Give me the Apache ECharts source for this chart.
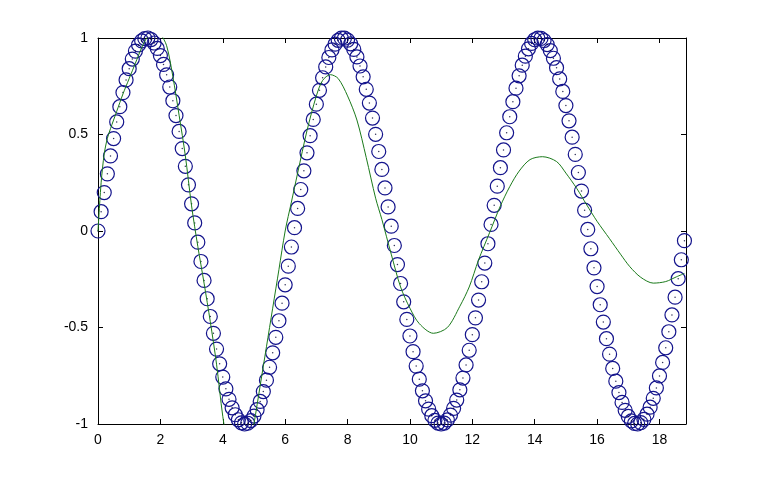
<!DOCTYPE html>
<html><head><meta charset="utf-8">
<script src="https://cdn.jsdelivr.net/npm/echarts@6/dist/echarts.min.js"></script>
<style>html,body{margin:0;padding:0;background:#fff}#c{width:760px;height:477px}</style>
</head><body><div id="c"></div>
<script>
const circleX = [
0,0.1,0.2,0.3,0.4,0.5,0.6,0.7,0.8,0.9,
1,1.1,1.2,1.3,1.4,1.5,1.6,1.7,1.8,1.9,
2,2.1,2.2,2.3,2.4,2.5,2.6,2.7,2.8,2.9,
3,3.1,3.2,3.3,3.4,3.5,3.6,3.7,3.8,3.9,
4,4.1,4.2,4.3,4.4,4.5,4.6,4.7,4.8,4.9,
5,5.1,5.2,5.3,5.4,5.5,5.6,5.7,5.8,5.9,
6,6.1,6.2,6.3,6.4,6.5,6.6,6.7,6.8,6.9,
7,7.1,7.2,7.3,7.4,7.5,7.6,7.7,7.8,7.9,
8,8.1,8.2,8.3,8.4,8.5,8.6,8.7,8.8,8.9,
9,9.1,9.2,9.3,9.4,9.5,9.6,9.7,9.8,9.9,
10,10.1,10.2,10.3,10.4,10.5,10.6,10.7,10.8,10.9,
11,11.1,11.2,11.3,11.4,11.5,11.6,11.7,11.8,11.9,
12,12.1,12.2,12.3,12.4,12.5,12.6,12.7,12.8,12.9,
13,13.1,13.2,13.3,13.4,13.5,13.6,13.7,13.8,13.9,
14,14.1,14.2,14.3,14.4,14.5,14.6,14.7,14.8,14.9,
15,15.1,15.2,15.3,15.4,15.5,15.6,15.7,15.8,15.9,
16,16.1,16.2,16.3,16.4,16.5,16.6,16.7,16.8,16.9,
17,17.1,17.2,17.3,17.4,17.5,17.6,17.7,17.8,17.9,
18,18.1,18.2,18.3,18.4,18.5,18.6,18.7,18.8];
const circleY = [
0,0.100,0.199,0.296,0.389,0.479,0.565,0.644,0.717,0.783,
0.841,0.891,0.932,0.964,0.985,0.997,1.000,0.992,0.974,0.946,
0.909,0.863,0.809,0.746,0.675,0.598,0.516,0.427,0.335,0.239,
0.141,0.042,-0.058,-0.158,-0.256,-0.351,-0.443,-0.530,-0.612,-0.688,
-0.757,-0.818,-0.872,-0.916,-0.952,-0.978,-0.994,-1.000,-0.996,-0.982,
-0.959,-0.926,-0.883,-0.832,-0.773,-0.706,-0.631,-0.551,-0.465,-0.374,
-0.279,-0.182,-0.083,0.017,0.117,0.215,0.312,0.405,0.494,0.578,
0.657,0.729,0.794,0.850,0.899,0.938,0.968,0.988,0.999,0.999,
0.989,0.970,0.941,0.902,0.855,0.799,0.734,0.663,0.585,0.501,
0.412,0.319,0.223,0.125,0.025,-0.075,-0.174,-0.272,-0.367,-0.458,
-0.544,-0.625,-0.700,-0.768,-0.828,-0.880,-0.923,-0.957,-0.981,-0.995,
-1.000,-0.995,-0.979,-0.954,-0.919,-0.876,-0.823,-0.762,-0.694,-0.618,
-0.537,-0.450,-0.358,-0.263,-0.166,-0.066,0.034,0.133,0.232,0.328,
0.420,0.509,0.592,0.670,0.740,0.804,0.859,0.906,0.944,0.972,
0.991,0.999,0.998,0.987,0.966,0.935,0.895,0.846,0.788,0.723,
0.650,0.571,0.486,0.397,0.303,0.207,0.108,0.008,-0.092,-0.191,
-0.288,-0.382,-0.472,-0.558,-0.638,-0.712,-0.778,-0.837,-0.888,-0.929,
-0.961,-0.984,-0.997,-1.000,-0.993,-0.976,-0.949,-0.913,-0.867,-0.813,
-0.751,-0.681,-0.605,-0.522,-0.435,-0.343,-0.247,-0.149,-0.050];

// green curve: points
const lineX = [0,0.1,0.2,0.3,0.4,0.6,0.8,1.0,1.2,1.4,1.6,1.8,2.0,2.2,2.4,2.6,2.8,3.0,3.2,3.4,3.6,3.8,4.0,4.2,4.4,4.6,4.8,5.0,5.2,5.4,5.6,5.8,6.0,6.2,6.4,6.7,7.0,7.2,7.45,7.7,8.0,8.3,8.6,8.9,9.1,9.4,9.7,10.0,10.3,10.75,11.2,11.6,11.9,12.2,12.55,12.9,13.2,13.5,13.85,14.25,14.7,15.0,15.35,15.65,16.0,16.4,16.75,17.05,17.4,17.8,18.2,18.55,18.8];
const lineY = [0,0.25,0.40,0.48,0.53,0.62,0.71,0.79,0.87,0.95,1.01,1.04,1.02,0.96,0.80,0.60,0.39,0.13,-0.08,-0.27,-0.47,-0.69,-0.96,-1.15,-1.25,-1.26,-1.18,-1.0,-0.80,-0.60,-0.40,-0.20,0.0,0.15,0.30,0.52,0.70,0.78,0.81,0.79,0.70,0.575,0.38,0.17,0.06,-0.12,-0.29,-0.40,-0.48,-0.53,-0.50,-0.39,-0.29,-0.15,-0.01,0.13,0.23,0.31,0.37,0.385,0.36,0.30,0.22,0.14,0.05,-0.04,-0.12,-0.185,-0.24,-0.27,-0.262,-0.237,-0.22];

const xTicks = [0,2,4,6,8,10,12,14,16,18];
const yTicks = [-1,-0.5,0,0.5,1];

const circleData = circleX.map((x, i) => [x, circleY[i]]);
const lineData = lineX.map((x, i) => [x, lineY[i]]);

const font = "'Liberation Sans', Arial, Helvetica, sans-serif";
const axisLine = {show: true, onZero: false, lineStyle: {color: '#000', width: 1}};
const tick = {show: true, inside: true, length: 5, lineStyle: {color: '#000', width: 1}};

const chart = echarts.init(document.getElementById('c'), null, {renderer: 'canvas'});
chart.setOption({
  animation: false,
  backgroundColor: '#fff',
  grid: {left: 98, right: 74, top: 38, bottom: 53, containLabel: false},
  xAxis: [
    {type: 'value', min: 0, max: 18.85, interval: 2, position: 'bottom',
     axisLine: axisLine, axisTick: tick, splitLine: {show: false},
     axisLabel: {color: '#000', fontFamily: font, fontSize: 14, margin: 9,
       showMaxLabel: false,
       formatter: v => xTicks.includes(v) ? String(v) : ''}},
    {type: 'value', min: 0, max: 18.85, interval: 2, position: 'top',
     axisLine: axisLine, axisTick: tick, splitLine: {show: false},
     axisLabel: {show: false}}
  ],
  yAxis: [
    {type: 'value', min: -1, max: 1, interval: 0.5, position: 'left',
     axisLine: axisLine, axisTick: tick, splitLine: {show: false},
     axisLabel: {color: '#000', fontFamily: font, fontSize: 14, margin: 10,
       formatter: v => yTicks.includes(v) ? String(v) : ''}},
    {type: 'value', min: -1, max: 1, interval: 0.5, position: 'right',
     axisLine: axisLine, axisTick: tick, splitLine: {show: false},
     axisLabel: {show: false}}
  ],
  series: [
    {type: 'scatter', xAxisIndex: 0, yAxisIndex: 0, data: circleData,
     symbol: 'circle', symbolSize: 14,
     itemStyle: {color: 'rgba(0,0,0,0)', borderColor: '#14148c', borderWidth: 1.2, opacity: 1},
     emphasis: {disabled: true}, z: 2},
    {type: 'scatter', xAxisIndex: 0, yAxisIndex: 0, data: circleData,
     symbol: 'circle', symbolSize: 1.5,
     itemStyle: {color: '#000030'}, emphasis: {disabled: true}, z: 3},
    {type: 'line', xAxisIndex: 0, yAxisIndex: 0, data: lineData,
     showSymbol: false, symbol: 'none', smooth: 0.3, clip: true,
     lineStyle: {color: '#1b7a1b', width: 1}, emphasis: {disabled: true}, z: 4}
  ]
});
</script>
</body></html>
